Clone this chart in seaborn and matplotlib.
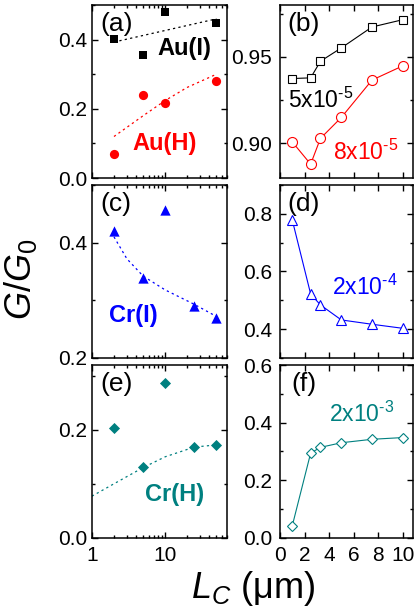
import numpy as np
import pandas as pd
import matplotlib
matplotlib.use("Agg")
import matplotlib.pyplot as plt
from matplotlib.ticker import FixedLocator, MultipleLocator, FormatStrFormatter, LogLocator, NullFormatter
import seaborn as sns

sns.set_theme(style="ticks")
plt.rcParams["font.family"] = ["Liberation Sans", "DejaVu Sans"]
plt.rcParams["mathtext.fontset"] = "custom"
plt.rcParams["mathtext.rm"] = "Liberation Sans"
plt.rcParams["mathtext.it"] = "Liberation Sans:italic"
plt.rcParams["mathtext.bf"] = "Liberation Sans:bold"
plt.rcParams["axes.linewidth"] = 1.1
plt.rcParams["axes.edgecolor"] = "black"

# ---- left column: G/G0 versus channel length (log axis) ----
au_i_L = [2, 5, 10, 50]
au_i_G = [0.403, 0.357, 0.480, 0.448]
au_h_L = [2, 5, 10, 50]
au_h_G = [0.070, 0.241, 0.217, 0.281]
cr_i_L = [2, 5, 10, 25, 50]
cr_i_G = [0.420, 0.338, 0.456, 0.290, 0.270]
cr_h_L = [2, 5, 10, 25, 50]
cr_h_G = [0.203, 0.131, 0.287, 0.169, 0.171]

# guide-to-the-eye curves
fit_au_i_L = [2, 50]
fit_au_i_G = [0.393, 0.460]
fit_au_h_L = [2, 5, 10, 20, 50]
fit_au_h_G = [0.120, 0.180, 0.224, 0.262, 0.300]
fit_cr_i_L = [2, 3, 5, 10, 25, 50]
fit_cr_i_G = [0.410, 0.372, 0.342, 0.318, 0.293, 0.272]
fit_cr_h_L = [1, 2, 5, 10, 25, 50]
fit_cr_h_G = [0.077, 0.100, 0.130, 0.150, 0.168, 0.172]

# ---- right column: G/G0 versus channel length (linear axis) ----
lc_um = [1, 2.5, 3.3, 5, 7.5, 10]
g_5e5 = [0.9375, 0.9379, 0.9475, 0.9552, 0.9673, 0.9715]
g_8e5 = [0.9009, 0.8880, 0.9029, 0.9150, 0.9366, 0.9448]
g_2e4 = [0.779, 0.522, 0.484, 0.432, 0.417, 0.403]
g_2e3 = [0.041, 0.294, 0.314, 0.330, 0.342, 0.348]

RED = "#ff0000"
BLUE = "#0000ff"
TEAL = "#008080"

fig = plt.figure(figsize=(4.16, 6.13), dpi=100)

lx, lw_ = 0.221, 0.325
rx, rw = 0.673, 0.320
rows = [(0.7096, 0.2822), (0.4160, 0.2822), (0.1228, 0.2817)]

axL = [fig.add_axes([lx, b, lw_, h]) for b, h in rows]
axR = [fig.add_axes([rx, b, rw, h]) for b, h in rows]

dash = (0, (1.8, 2.6))

def fit(ax, x, y, c):
    sns.lineplot(x=x, y=y, ax=ax, color=c, linestyle=dash, linewidth=0.9,
                 estimator=None, sort=False)

def dots(ax, x, y, c, m, s):
    sns.scatterplot(x=x, y=y, ax=ax, color=c, marker=m, s=s, linewidth=0,
                    edgecolor=c, zorder=3)

def opened(ax, x, y, c, m, ms):
    sns.lineplot(x=x, y=y, ax=ax, color=c, linewidth=0.8, marker=m,
                 markersize=ms, markerfacecolor="white", markeredgecolor=c,
                 markeredgewidth=0.8, estimator=None, sort=False)

def power_label(ax, x, y, mant, expo, c):
    ax.text(x, y, mant + r"x10$^{\text{-" + expo + "}}$", transform=ax.transAxes,
            color=c, fontsize=16.5, ha="left", va="baseline")

# (a)
ax = axL[0]
fit(ax, fit_au_i_L, fit_au_i_G, "black")
fit(ax, fit_au_h_L, fit_au_h_G, RED)
dots(ax, au_i_L, au_i_G, "black", "s", 38)
dots(ax, au_h_L, au_h_G, RED, "o", 44)
ax.set_ylim(0, 0.5)
ax.yaxis.set_major_locator(MultipleLocator(0.2))
ax.yaxis.set_minor_locator(MultipleLocator(0.1))
ax.text(0.68, 0.746, "Au(I)", transform=ax.transAxes, color="black",
        fontsize=17, fontweight="bold", ha="center", va="center")
ax.text(0.54, 0.202, "Au(H)", transform=ax.transAxes, color=RED,
        fontsize=17, fontweight="bold", ha="center", va="center")

# (c)
ax = axL[1]
fit(ax, fit_cr_i_L, fit_cr_i_G, BLUE)
dots(ax, cr_i_L, cr_i_G, BLUE, "^", 55)
ax.set_ylim(0.2, 0.5)
ax.yaxis.set_major_locator(MultipleLocator(0.2))
ax.yaxis.set_minor_locator(MultipleLocator(0.1))
ax.text(0.303, 0.243, "Cr(I)", transform=ax.transAxes, color=BLUE,
        fontsize=17, fontweight="bold", ha="center", va="center")

# (e)
ax = axL[2]
fit(ax, fit_cr_h_L, fit_cr_h_G, TEAL)
dots(ax, cr_h_L, cr_h_G, TEAL, "D", 32)
ax.set_ylim(0, 0.32)
ax.yaxis.set_major_locator(MultipleLocator(0.2))
ax.yaxis.set_minor_locator(MultipleLocator(0.1))
ax.text(0.613, 0.253, "Cr(H)", transform=ax.transAxes, color=TEAL,
        fontsize=17, fontweight="bold", ha="center", va="center")

for i, ax in enumerate(axL):
    ax.set_xscale("log")
    ax.set_xlim(1, 70)
    ax.xaxis.set_major_locator(FixedLocator([1, 10]))
    ax.xaxis.set_minor_locator(LogLocator(base=10, subs=np.arange(2, 10), numticks=10))
    ax.xaxis.set_minor_formatter(NullFormatter())
    ax.xaxis.set_major_formatter(FormatStrFormatter("%d"))
    ax.yaxis.set_major_formatter(FormatStrFormatter("%.1f"))
    ax.tick_params(axis="y", which="both", pad=3.5)
    if i < 2:
        ax.tick_params(axis="x", labelbottom=False)

# (b)
ax = axR[0]
opened(ax, lc_um, g_5e5, "black", "s", 6.0)
opened(ax, lc_um, g_8e5, RED, "o", 7.2)
ax.set_ylim(0.88, 0.98)
ax.yaxis.set_major_locator(MultipleLocator(0.05))
ax.yaxis.set_minor_locator(MultipleLocator(0.025))
ax.yaxis.set_major_formatter(FormatStrFormatter("%.2f"))
power_label(ax, 0.06, 0.405, "5", "5", "black")
power_label(ax, 0.398, 0.104, "8", "5", RED)

# (d)
ax = axR[1]
opened(ax, lc_um, g_2e4, BLUE, "^", 7.4)
ax.set_ylim(0.3, 0.9)
ax.yaxis.set_major_locator(MultipleLocator(0.2))
ax.yaxis.set_minor_locator(MultipleLocator(0.1))
ax.yaxis.set_major_formatter(FormatStrFormatter("%.1f"))
power_label(ax, 0.391, 0.364, "2", "4", BLUE)

# (f)
ax = axR[2]
opened(ax, lc_um, g_2e3, TEAL, "D", 5.0)
ax.set_ylim(0, 0.6)
ax.yaxis.set_major_locator(MultipleLocator(0.2))
ax.yaxis.set_minor_locator(MultipleLocator(0.1))
ax.yaxis.set_major_formatter(FormatStrFormatter("%.1f"))
power_label(ax, 0.368, 0.67, "2", "3", TEAL)

for i, ax in enumerate(axR):
    ax.set_xlim(0, 10.85)
    ax.xaxis.set_major_locator(MultipleLocator(2))
    ax.xaxis.set_major_formatter(FormatStrFormatter("%d"))
    ax.tick_params(axis="y", which="both", pad=5.5)
    if i < 2:
        ax.tick_params(axis="x", labelbottom=False)

panel_tags = ["(a)", "(c)", "(e)", "(b)", "(d)", "(f)"]
for ax, tag in zip(axL + axR, panel_tags):
    ax.set_xlabel("")
    ax.set_ylabel("")
    ax.tick_params(which="both", direction="in", top=True, right=True,
                   colors="black", labelsize=15, width=1.0)
    ax.tick_params(which="major", length=4.0)
    ax.tick_params(which="minor", length=2.3)
    ax.tick_params(axis="x", which="both", pad=6.0)
    for sp in ax.spines.values():
        sp.set_visible(True)
        sp.set_color("black")
    ax.text(0.18, 0.89, tag, transform=ax.transAxes, fontsize=19,
            ha="center", va="center", color="black")

fig.text(0.05, 0.545, "$G/G_0$", rotation=90, ha="center", va="center",
         fontsize=26, color="black")
fig.text(0.608, 0.0245, "$L_C$ (μm)", ha="center", va="baseline",
         fontsize=26, color="black")

fig.savefig("out.png", dpi=100, facecolor="white")
